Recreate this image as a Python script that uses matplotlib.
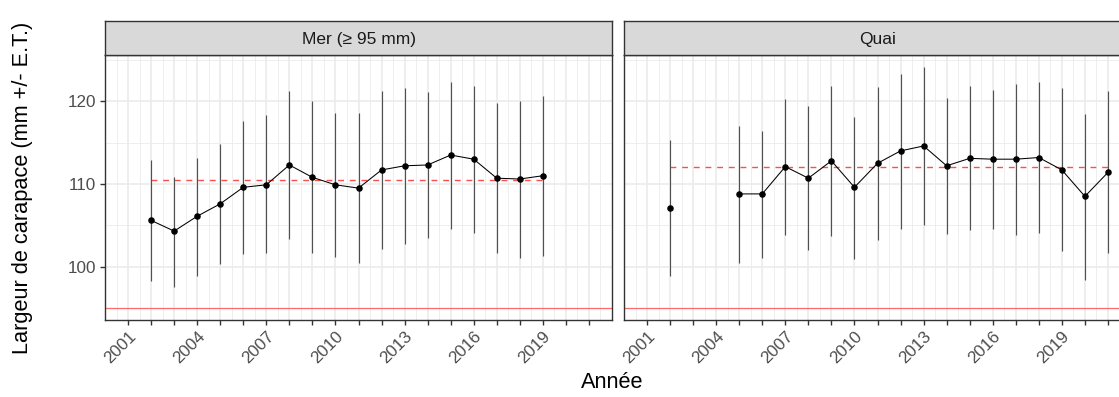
import numpy as np
import matplotlib.pyplot as plt
from matplotlib.ticker import FixedLocator, FixedFormatter

plt.rcParams['font.family'] = ['Liberation Sans', 'DejaVu Sans']

years = np.arange(2002, 2022)

# Mer (>= 95 mm)
mer_mean = [105.6, 104.3, 106.1, 107.6, 109.6, 109.9, 112.3, 110.8, 109.9, 109.5,
            111.7, 112.2, 112.3, 113.5, 113.0, 110.7, 110.6, 111.0, np.nan, np.nan]
mer_hi = [112.9, 110.9, 113.2, 114.8, 117.6, 118.3, 121.2, 120.0, 118.6, 118.6,
          121.3, 121.6, 121.1, 122.3, 121.8, 119.8, 120.0, 120.6, np.nan, np.nan]
mer_lo = [98.3, 97.6, 98.9, 100.3, 101.5, 101.6, 103.4, 101.6, 101.2, 100.4,
          102.1, 102.7, 103.5, 104.6, 104.1, 101.6, 101.0, 101.3, np.nan, np.nan]
mer_avg = 110.5

# Quai
quai_mean = [107.1, np.nan, np.nan, 108.8, 108.8, 112.1, 110.7, 112.8, 109.6, 112.5,
             114.0, 114.6, 112.2, 113.1, 113.0, 113.0, 113.2, 111.7, 108.5, 111.4]
quai_hi = [115.3, np.nan, np.nan, 117.0, 116.4, 120.3, 119.4, 121.8, 118.1, 121.7,
           123.3, 124.1, 120.4, 121.9, 121.4, 122.1, 122.3, 121.6, 118.5, 121.3]
quai_lo = [98.9, np.nan, np.nan, 100.5, 101.1, 103.8, 102.0, 103.7, 100.9, 103.2,
           104.5, 105.1, 104.0, 104.4, 104.5, 103.8, 104.1, 101.9, 98.4, 101.6]
quai_avg = 112.0

panels = [
    ("Mer (≥ 95 mm)", mer_mean, mer_lo, mer_hi, mer_avg),
    ("Quai", quai_mean, quai_lo, quai_hi, quai_avg),
]
size_limit = 95

W, H = 1119, 397
fig = plt.figure(figsize=(W / 100, H / 100), dpi=100)

# panel placement in pixels (the right panel runs past the figure edge)
lefts = [105, 624]
pw = 507
ptop, pbot = 55, 320
strip_top = 21

for (title, mean, lo, hi, avg), left in zip(panels, lefts):
    ax = fig.add_axes([left / W, 1 - pbot / H, pw / W, (pbot - ptop) / H])
    mean = np.array(mean)
    lo = np.array(lo)
    hi = np.array(hi)
    ok = ~np.isnan(mean)

    ax.axhline(size_limit, color='#FF6B6B', lw=0.9, zorder=2)
    ax.plot([years[ok].min(), years[ok].max()], [avg, avg], color='#FF4D4D',
            lw=1.0, dashes=(4.2, 4.2), zorder=2)
    ax.vlines(years[ok], lo[ok], hi[ok], color='#505050', lw=0.85, zorder=3)
    ax.plot(years, mean, color='black', lw=0.75, zorder=4)
    ax.plot(years[ok], mean[ok], 'o', color='black', ms=3.7, zorder=5)

    ax.set_xlim(2000, 2022)
    ax.set_ylim(93.55, 125.6)

    xt = np.arange(2001, 2022)
    ax.xaxis.set_major_locator(FixedLocator(xt))
    ax.xaxis.set_major_formatter(FixedFormatter([str(y) if (y - 2001) % 3 == 0 else '' for y in xt]))
    ax.xaxis.set_minor_locator(FixedLocator(np.arange(2000.5, 2022, 1.0)))
    ax.yaxis.set_major_locator(FixedLocator([100, 110, 120]))
    ax.yaxis.set_minor_locator(FixedLocator([95, 105, 115, 125]))

    ax.grid(which='major', color='#EBEBEB', lw=1.2, zorder=0)
    ax.grid(which='minor', color='#EBEBEB', lw=0.6, zorder=0)
    ax.set_axisbelow(True)

    for s in ax.spines.values():
        s.set_color('#333333')
        s.set_linewidth(1.0)

    ax.tick_params(which='major', length=3.8, width=1.0, color='#333333',
                   labelsize=12.3, labelcolor='#4D4D4D', pad=2.5)
    ax.tick_params(which='minor', length=0)
    for lab in ax.get_xticklabels():
        lab.set_rotation(45)
        lab.set_ha('right')
        lab.set_va('top')
        lab.set_rotation_mode('anchor')
    if left != lefts[0]:
        ax.set_yticklabels([])
        ax.tick_params(axis='y', length=0)

    sax = fig.add_axes([left / W, 1 - ptop / H, pw / W, (ptop - strip_top) / H])
    sax.set_facecolor('#D9D9D9')
    sax.set_xticks([])
    sax.set_yticks([])
    for s in sax.spines.values():
        s.set_color('#333333')
        s.set_linewidth(1.0)
    sax.text(0.5, 0.47, title, ha='center', va='center', fontsize=12.5,
             color='#1A1A1A', transform=sax.transAxes)

fig.text(23 / W, 1 - 188 / H, "Largeur de carapace (mm +/- E.T.)", rotation=90,
         ha='center', va='center', fontsize=15.7)
fig.text(612 / W, 1 - 383 / H, "Année", ha='center', va='center', fontsize=15.7)

fig.savefig('out.png', dpi=100)
